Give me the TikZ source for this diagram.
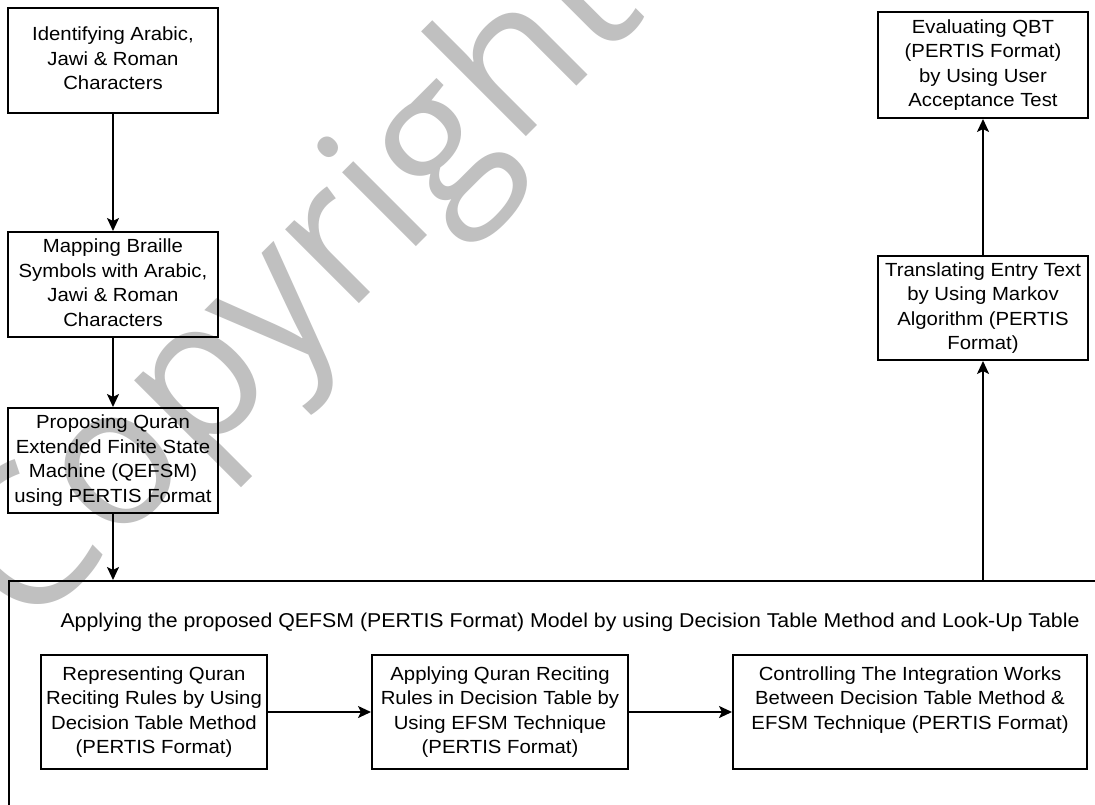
\documentclass[tikz,border=0pt]{standalone}
\usepackage{fontspec}
\setmainfont{Liberation Sans}
\newfontfamily\wmfont{Open Sans}
\usetikzlibrary{arrows.meta}
\definecolor{wmgray}{RGB}{192,192,192}
\newcommand\wtxt[2][19]{\scalebox{1.07}[1]{\fontsize{#1}{24.5}\selectfont\begin{tabular}{@{}c@{}}#2\end{tabular}}}
\tikzset{
  box/.style={draw=black, line width=2pt, fill=none, inner sep=0pt, minimum width=210pt, minimum height=105pt, align=center},
  arr/.style={draw=black, line width=2pt, -{Stealth[length=13pt,width=12pt,inset=3pt]}},
  wm/.style={text=wmgray, inner sep=0pt, font=\wmfont\fontsize{195}{195}\selectfont}
}
\begin{document}
\begin{tikzpicture}[x=1pt,y=-1pt]
\useasboundingbox (0,0) rectangle (1095,804);
\clip (0,0) rectangle (1095,804);
\fill[white] (0,0) rectangle (1095,804);
% watermark
\node[wm, rotate=45, anchor=base] (wmark) at (337,326) {Copyright};
% left column
\node[box] (n1) at (113,60.5) {\wtxt{Identifying Arabic,\\Jawi \& Roman\\Characters}};
\node[box] (n2) at (113,284.5) {\wtxt{Mapping Braille\\Symbols with Arabic,\\Jawi \& Roman\\Characters}};
\node[box] (n3) at (113,460.5) {\wtxt{Proposing Quran\\Extended Finite State\\Machine (QEFSM)\\using PERTIS Format}};
% right column
\node[box, minimum height=106pt] (r1) at (983,65) {\wtxt{Evaluating QBT\\(PERTIS Format)\\by Using User\\Acceptance Test}};
\node[box, minimum height=104pt] (r2) at (983,308) {\wtxt{Translating Entry Text\\by Using Markov\\Algorithm (PERTIS\\Format)}};
% container
\node[draw=black, line width=2pt, inner sep=0pt, minimum width=1110pt, minimum height=260pt, anchor=north west] (cont) at (8,580) {};
\node[inner sep=0pt] (title) at (570,622) {\scalebox{1.065}[1]{\fontsize{20}{24}\selectfont Applying the proposed QEFSM (PERTIS Format) Model by using Decision Table Method and Look-Up Table}};
% inner boxes
\node[box, minimum width=226pt, minimum height=114pt] (a) at (154,712) {\wtxt{Representing Quran\\Reciting Rules by Using\\Decision Table Method\\(PERTIS Format)}};
\node[box, minimum width=256pt, minimum height=114pt] (b) at (500,712) {\wtxt{Applying Quran Reciting\\Rules in Decision Table by\\Using EFSM Technique\\(PERTIS Format)}};
\node[box, minimum width=354pt, minimum height=114pt] (c) at (910,712) {\wtxt{Controlling The Integration Works\\Between Decision Table Method \&\\EFSM Technique (PERTIS Format)\\ \strut}};
% connectors
\draw[arr] (n1.south) -- (n2.north);
\draw[arr] (n2.south) -- (n3.north);
\draw[arr] (n3.south) -- (n3.south |- cont.north);
\draw[arr] (r2.south |- cont.north) -- (r2.south);
\draw[arr] (r2.north) -- (r1.south);
\draw[arr] (a.east) -- (b.west);
\draw[arr] (b.east) -- (c.west);
\end{tikzpicture}
\end{document}
